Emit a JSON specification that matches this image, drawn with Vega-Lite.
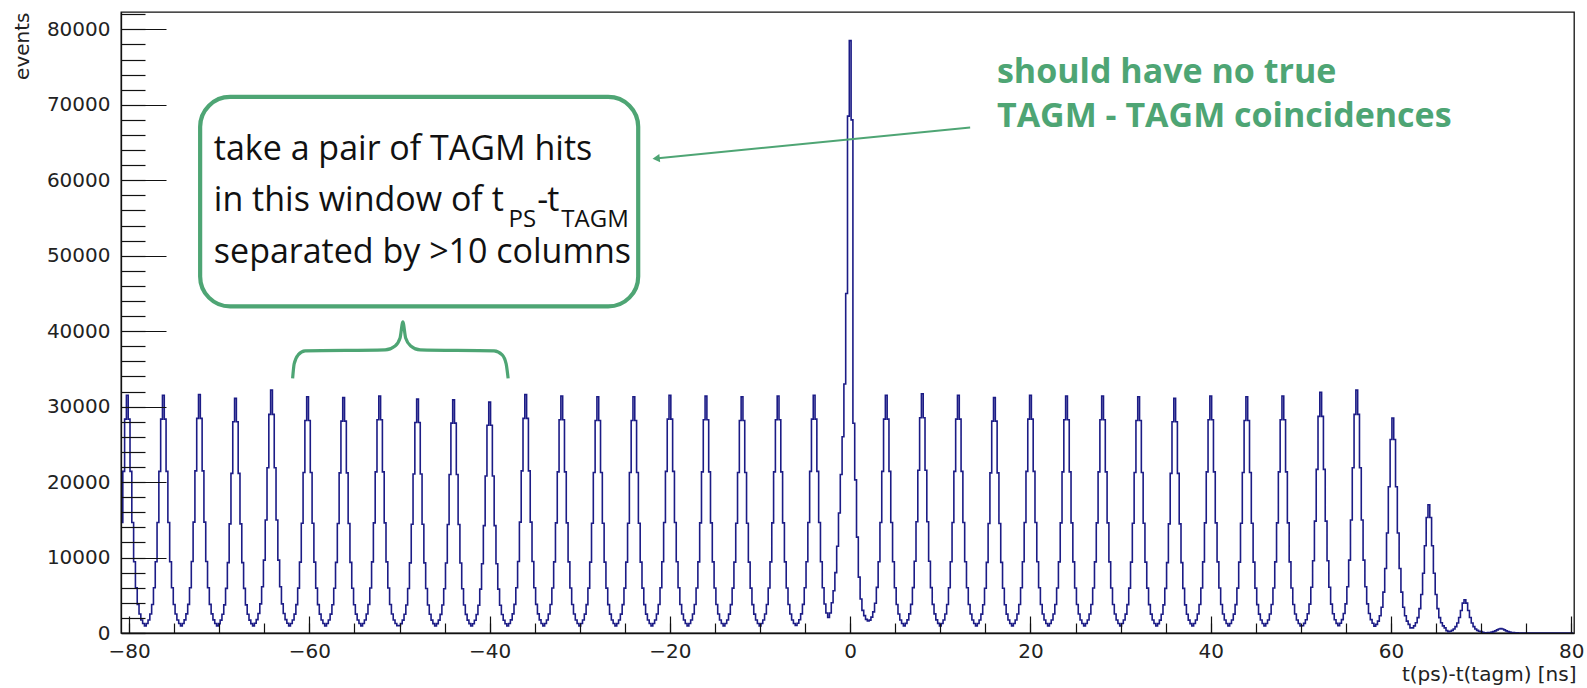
{
"$schema":"https://vega.github.io/schema/vega-lite/v6.json",
"width":1453,"height":621,
"autosize":{"type":"none"},
"padding":{"left":121,"top":12,"right":13,"bottom":55},
"background":"white",
"config":{"view":{"stroke":"#111","strokeWidth":1.3},
"axis":{"grid":false,"domainColor":"#111","domainWidth":1.3,"tickColor":"#111","tickWidth":1.2,"labelFont":"DejaVu Sans","labelFontSize":20,"labelColor":"#222","titleFont":"DejaVu Sans","titleFontSize":20,"titleFontWeight":"normal","titleColor":"#222"}},
"resolve":{"axis":{"x":"independent","y":"independent"}},
"datasets":{
"hist":[
{"t":-80.8,"n":14650},{"t":-80.6,"n":21420},{"t":-80.4,"n":28350},{"t":-80.2,"n":31500},{"t":-80.0,"n":28350},{"t":-79.8,"n":21420},{"t":-79.6,"n":14650},{"t":-79.4,"n":9450},{"t":-79.2,"n":5990},{"t":-79.0,"n":3780},{"t":-78.8,"n":2520},{"t":-78.6,"n":1730},{"t":-78.4,"n":1260},{"t":-78.2,"n":940},
{"t":-78.0,"n":1260},{"t":-77.8,"n":1730},{"t":-77.6,"n":2520},{"t":-77.4,"n":3780},{"t":-77.2,"n":5990},{"t":-77.0,"n":9450},{"t":-76.8,"n":14650},{"t":-76.6,"n":21420},{"t":-76.4,"n":28350},{"t":-76.2,"n":31500},{"t":-76.0,"n":28350},{"t":-75.8,"n":21420},{"t":-75.6,"n":14650},{"t":-75.4,"n":9450},{"t":-75.2,"n":5990},{"t":-75.0,"n":3780},{"t":-74.8,"n":2520},{"t":-74.6,"n":1730},{"t":-74.4,"n":1260},{"t":-74.2,"n":945},
{"t":-74.0,"n":1260},{"t":-73.8,"n":1740},{"t":-73.6,"n":2530},{"t":-73.4,"n":3790},{"t":-73.2,"n":6000},{"t":-73.0,"n":9480},{"t":-72.8,"n":14690},{"t":-72.6,"n":21490},{"t":-72.4,"n":28440},{"t":-72.2,"n":31600},{"t":-72.0,"n":28440},{"t":-71.8,"n":21490},{"t":-71.6,"n":14690},{"t":-71.4,"n":9480},{"t":-71.2,"n":6000},{"t":-71.0,"n":3790},{"t":-70.8,"n":2530},{"t":-70.6,"n":1740},{"t":-70.4,"n":1260},{"t":-70.2,"n":940},
{"t":-70.0,"n":1240},{"t":-69.8,"n":1710},{"t":-69.6,"n":2490},{"t":-69.4,"n":3730},{"t":-69.2,"n":5910},{"t":-69.0,"n":9330},{"t":-68.8,"n":14460},{"t":-68.6,"n":21150},{"t":-68.4,"n":27990},{"t":-68.2,"n":31100},{"t":-68.0,"n":27990},{"t":-67.8,"n":21150},{"t":-67.6,"n":14460},{"t":-67.4,"n":9330},{"t":-67.2,"n":5910},{"t":-67.0,"n":3730},{"t":-66.8,"n":2490},{"t":-66.6,"n":1710},{"t":-66.4,"n":1240},{"t":-66.2,"n":950},
{"t":-66.0,"n":1290},{"t":-65.8,"n":1770},{"t":-65.6,"n":2580},{"t":-65.4,"n":3860},{"t":-65.2,"n":6120},{"t":-65.0,"n":9660},{"t":-64.8,"n":14970},{"t":-64.6,"n":21900},{"t":-64.4,"n":28980},{"t":-64.2,"n":32200},{"t":-64.0,"n":28980},{"t":-63.8,"n":21900},{"t":-63.6,"n":14970},{"t":-63.4,"n":9660},{"t":-63.2,"n":6120},{"t":-63.0,"n":3860},{"t":-62.8,"n":2580},{"t":-62.6,"n":1770},{"t":-62.4,"n":1290},{"t":-62.2,"n":950},
{"t":-62.0,"n":1250},{"t":-61.8,"n":1720},{"t":-61.6,"n":2500},{"t":-61.4,"n":3760},{"t":-61.2,"n":5950},{"t":-61.0,"n":9390},{"t":-60.8,"n":14550},{"t":-60.6,"n":21280},{"t":-60.4,"n":28170},{"t":-60.2,"n":31300},{"t":-60.0,"n":28170},{"t":-59.8,"n":21280},{"t":-59.6,"n":14550},{"t":-59.4,"n":9390},{"t":-59.2,"n":5950},{"t":-59.0,"n":3760},{"t":-58.8,"n":2500},{"t":-58.6,"n":1720},{"t":-58.4,"n":1250},{"t":-58.2,"n":935},
{"t":-58.0,"n":1250},{"t":-57.8,"n":1720},{"t":-57.6,"n":2500},{"t":-57.4,"n":3740},{"t":-57.2,"n":5930},{"t":-57.0,"n":9360},{"t":-56.8,"n":14510},{"t":-56.6,"n":21220},{"t":-56.4,"n":28080},{"t":-56.2,"n":31200},{"t":-56.0,"n":28080},{"t":-55.8,"n":21220},{"t":-55.6,"n":14510},{"t":-55.4,"n":9360},{"t":-55.2,"n":5930},{"t":-55.0,"n":3740},{"t":-54.8,"n":2500},{"t":-54.6,"n":1720},{"t":-54.4,"n":1250},{"t":-54.2,"n":940},
{"t":-54.0,"n":1260},{"t":-53.8,"n":1730},{"t":-53.6,"n":2510},{"t":-53.4,"n":3770},{"t":-53.2,"n":5970},{"t":-53.0,"n":9420},{"t":-52.8,"n":14600},{"t":-52.6,"n":21350},{"t":-52.4,"n":28260},{"t":-52.2,"n":31400},{"t":-52.0,"n":28260},{"t":-51.8,"n":21350},{"t":-51.6,"n":14600},{"t":-51.4,"n":9420},{"t":-51.2,"n":5970},{"t":-51.0,"n":3770},{"t":-50.8,"n":2510},{"t":-50.6,"n":1730},{"t":-50.4,"n":1260},{"t":-50.2,"n":980},{"t":-50.0,"n":960},
{"t":-49.8,"n":1240},{"t":-49.6,"n":1710},{"t":-49.4,"n":2480},{"t":-49.2,"n":3720},{"t":-49.0,"n":5890},{"t":-48.8,"n":9300},{"t":-48.6,"n":14420},{"t":-48.4,"n":21080},{"t":-48.2,"n":27900},{"t":-48.0,"n":31000},{"t":-47.8,"n":27900},{"t":-47.6,"n":21080},{"t":-47.4,"n":14420},{"t":-47.2,"n":9300},{"t":-47.0,"n":5890},{"t":-46.8,"n":3720},{"t":-46.6,"n":2480},{"t":-46.4,"n":1710},{"t":-46.2,"n":1240},{"t":-46.0,"n":930},
{"t":-45.8,"n":1240},{"t":-45.6,"n":1700},{"t":-45.4,"n":2470},{"t":-45.2,"n":3710},{"t":-45.0,"n":5870},{"t":-44.8,"n":9270},{"t":-44.6,"n":14370},{"t":-44.4,"n":21010},{"t":-44.2,"n":27810},{"t":-44.0,"n":30900},{"t":-43.8,"n":27810},{"t":-43.6,"n":21010},{"t":-43.4,"n":14370},{"t":-43.2,"n":9270},{"t":-43.0,"n":5870},{"t":-42.8,"n":3710},{"t":-42.6,"n":2470},{"t":-42.4,"n":1700},{"t":-42.2,"n":1240},{"t":-42.0,"n":925},
{"t":-41.8,"n":1220},{"t":-41.6,"n":1680},{"t":-41.4,"n":2450},{"t":-41.2,"n":3670},{"t":-41.0,"n":5810},{"t":-40.8,"n":9180},{"t":-40.6,"n":14230},{"t":-40.4,"n":20810},{"t":-40.2,"n":27540},{"t":-40.0,"n":30600},{"t":-39.8,"n":27540},{"t":-39.6,"n":20810},{"t":-39.4,"n":14230},{"t":-39.2,"n":9180},{"t":-39.0,"n":5810},{"t":-38.8,"n":3670},{"t":-38.6,"n":2450},{"t":-38.4,"n":1680},{"t":-38.2,"n":1220},{"t":-38.0,"n":930},
{"t":-37.8,"n":1260},{"t":-37.6,"n":1740},{"t":-37.4,"n":2530},{"t":-37.2,"n":3790},{"t":-37.0,"n":6000},{"t":-36.8,"n":9480},{"t":-36.6,"n":14690},{"t":-36.4,"n":21490},{"t":-36.2,"n":28440},{"t":-36.0,"n":31600},{"t":-35.8,"n":28440},{"t":-35.6,"n":21490},{"t":-35.4,"n":14690},{"t":-35.2,"n":9480},{"t":-35.0,"n":6000},{"t":-34.8,"n":3790},{"t":-34.6,"n":2530},{"t":-34.4,"n":1740},{"t":-34.2,"n":1260},{"t":-34.0,"n":945},
{"t":-33.8,"n":1260},{"t":-33.6,"n":1730},{"t":-33.4,"n":2510},{"t":-33.2,"n":3770},{"t":-33.0,"n":5970},{"t":-32.8,"n":9420},{"t":-32.6,"n":14600},{"t":-32.4,"n":21350},{"t":-32.2,"n":28260},{"t":-32.0,"n":31400},{"t":-31.8,"n":28260},{"t":-31.6,"n":21350},{"t":-31.4,"n":14600},{"t":-31.2,"n":9420},{"t":-31.0,"n":5970},{"t":-30.8,"n":3770},{"t":-30.6,"n":2510},{"t":-30.4,"n":1730},{"t":-30.2,"n":1260},{"t":-30.0,"n":940},
{"t":-29.8,"n":1250},{"t":-29.6,"n":1720},{"t":-29.4,"n":2500},{"t":-29.2,"n":3760},{"t":-29.0,"n":5950},{"t":-28.8,"n":9390},{"t":-28.6,"n":14550},{"t":-28.4,"n":21280},{"t":-28.2,"n":28170},{"t":-28.0,"n":31300},{"t":-27.8,"n":28170},{"t":-27.6,"n":21280},{"t":-27.4,"n":14550},{"t":-27.2,"n":9390},{"t":-27.0,"n":5950},{"t":-26.8,"n":3760},{"t":-26.6,"n":2500},{"t":-26.4,"n":1720},{"t":-26.2,"n":1250},{"t":-26.0,"n":940},
{"t":-25.8,"n":1250},{"t":-25.6,"n":1720},{"t":-25.4,"n":2500},{"t":-25.2,"n":3760},{"t":-25.0,"n":5950},{"t":-24.8,"n":9390},{"t":-24.6,"n":14550},{"t":-24.4,"n":21280},{"t":-24.2,"n":28170},{"t":-24.0,"n":31300},{"t":-23.8,"n":28170},{"t":-23.6,"n":21280},{"t":-23.4,"n":14550},{"t":-23.2,"n":9390},{"t":-23.0,"n":5950},{"t":-22.8,"n":3760},{"t":-22.6,"n":2500},{"t":-22.4,"n":1720},{"t":-22.2,"n":1250},{"t":-22.0,"n":945},
{"t":-21.8,"n":1260},{"t":-21.6,"n":1730},{"t":-21.4,"n":2520},{"t":-21.2,"n":3780},{"t":-21.0,"n":5990},{"t":-20.8,"n":9450},{"t":-20.6,"n":14650},{"t":-20.4,"n":21420},{"t":-20.2,"n":28350},{"t":-20.0,"n":31500},{"t":-19.8,"n":28350},{"t":-19.6,"n":21420},{"t":-19.4,"n":14650},{"t":-19.2,"n":9450},{"t":-19.0,"n":5990},{"t":-18.8,"n":3780},{"t":-18.6,"n":2520},{"t":-18.4,"n":1730},{"t":-18.2,"n":1260},{"t":-18.0,"n":945},
{"t":-17.8,"n":1260},{"t":-17.6,"n":1730},{"t":-17.4,"n":2510},{"t":-17.2,"n":3770},{"t":-17.0,"n":5970},{"t":-16.8,"n":9420},{"t":-16.6,"n":14600},{"t":-16.4,"n":21350},{"t":-16.2,"n":28260},{"t":-16.0,"n":31400},{"t":-15.8,"n":28260},{"t":-15.6,"n":21350},{"t":-15.4,"n":14600},{"t":-15.2,"n":9420},{"t":-15.0,"n":5970},{"t":-14.8,"n":3770},{"t":-14.6,"n":2510},{"t":-14.4,"n":1730},{"t":-14.2,"n":1260},{"t":-14.0,"n":940},
{"t":-13.8,"n":1250},{"t":-13.6,"n":1720},{"t":-13.4,"n":2500},{"t":-13.2,"n":3760},{"t":-13.0,"n":5950},{"t":-12.8,"n":9390},{"t":-12.6,"n":14550},{"t":-12.4,"n":21280},{"t":-12.2,"n":28170},{"t":-12.0,"n":31300},{"t":-11.8,"n":28170},{"t":-11.6,"n":21280},{"t":-11.4,"n":14550},{"t":-11.2,"n":9390},{"t":-11.0,"n":5950},{"t":-10.8,"n":3760},{"t":-10.6,"n":2500},{"t":-10.4,"n":1720},{"t":-10.2,"n":1250},{"t":-10.0,"n":950},
{"t":-9.8,"n":1260},{"t":-9.6,"n":1730},{"t":-9.4,"n":2510},{"t":-9.2,"n":3770},{"t":-9.0,"n":5970},{"t":-8.8,"n":9420},{"t":-8.6,"n":14600},{"t":-8.4,"n":21350},{"t":-8.2,"n":28260},{"t":-8.0,"n":31400},{"t":-7.8,"n":28260},{"t":-7.6,"n":21350},{"t":-7.4,"n":14600},{"t":-7.2,"n":9420},{"t":-7.0,"n":5970},{"t":-6.8,"n":3770},{"t":-6.6,"n":2510},{"t":-6.4,"n":1730},{"t":-6.2,"n":1260},{"t":-6.0,"n":1000},
{"t":-5.8,"n":1300},{"t":-5.6,"n":1760},{"t":-5.4,"n":2540},{"t":-5.2,"n":3790},{"t":-5.0,"n":5990},{"t":-4.8,"n":9450},{"t":-4.6,"n":14650},{"t":-4.4,"n":21420},{"t":-4.2,"n":28350},{"t":-4.0,"n":31500},{"t":-3.8,"n":28350},{"t":-3.6,"n":21420},{"t":-3.4,"n":14650},{"t":-3.2,"n":9450},{"t":-3.0,"n":6000},{"t":-2.8,"n":3850},{"t":-2.6,"n":2650},{"t":-2.4,"n":2050},{"t":-2.2,"n":2650},{"t":-2.0,"n":4000},
{"t":-1.8,"n":5600},{"t":-1.6,"n":8000},{"t":-1.4,"n":11500},{"t":-1.2,"n":15900},{"t":-1.0,"n":21000},{"t":-0.8,"n":26000},{"t":-0.6,"n":33000},{"t":-0.4,"n":45000},{"t":-0.2,"n":68500},{"t":0,"n":78500},{"t":0.2,"n":68000},{"t":0.4,"n":27800},{"t":0.6,"n":20300},{"t":0.8,"n":12700},{"t":1.0,"n":7400},{"t":1.2,"n":4500},{"t":1.4,"n":3000},{"t":1.6,"n":2300},{"t":1.8,"n":1800},{"t":2.0,"n":1600},
{"t":2.2,"n":1700},{"t":2.4,"n":2100},{"t":2.6,"n":2800},{"t":2.8,"n":3950},{"t":3.0,"n":6050},{"t":3.2,"n":9450},{"t":3.4,"n":14650},{"t":3.6,"n":21420},{"t":3.8,"n":28350},{"t":4.0,"n":31500},{"t":4.2,"n":28350},{"t":4.4,"n":21420},{"t":4.6,"n":14650},{"t":4.8,"n":9450},{"t":5.0,"n":5990},{"t":5.2,"n":3780},{"t":5.4,"n":2520},{"t":5.6,"n":1730},{"t":5.8,"n":1260},{"t":6.0,"n":940},
{"t":6.2,"n":1270},{"t":6.4,"n":1740},{"t":6.6,"n":2540},{"t":6.8,"n":3800},{"t":7.0,"n":6020},{"t":7.2,"n":9510},{"t":7.4,"n":14740},{"t":7.6,"n":21560},{"t":7.8,"n":28530},{"t":8.0,"n":31700},{"t":8.2,"n":28530},{"t":8.4,"n":21560},{"t":8.6,"n":14740},{"t":8.8,"n":9510},{"t":9.0,"n":6020},{"t":9.2,"n":3800},{"t":9.4,"n":2540},{"t":9.6,"n":1740},{"t":9.8,"n":1270},{"t":10.0,"n":950},
{"t":10.2,"n":1260},{"t":10.4,"n":1730},{"t":10.6,"n":2520},{"t":10.8,"n":3780},{"t":11.0,"n":5990},{"t":11.2,"n":9450},{"t":11.4,"n":14650},{"t":11.6,"n":21420},{"t":11.8,"n":28350},{"t":12.0,"n":31500},{"t":12.2,"n":28350},{"t":12.4,"n":21420},{"t":12.6,"n":14650},{"t":12.8,"n":9450},{"t":13.0,"n":5990},{"t":13.2,"n":3780},{"t":13.4,"n":2520},{"t":13.6,"n":1730},{"t":13.8,"n":1260},{"t":14.0,"n":940},
{"t":14.2,"n":1250},{"t":14.4,"n":1720},{"t":14.6,"n":2500},{"t":14.8,"n":3740},{"t":15.0,"n":5930},{"t":15.2,"n":9360},{"t":15.4,"n":14510},{"t":15.6,"n":21220},{"t":15.8,"n":28080},{"t":16.0,"n":31200},{"t":16.2,"n":28080},{"t":16.4,"n":21220},{"t":16.6,"n":14510},{"t":16.8,"n":9360},{"t":17.0,"n":5930},{"t":17.2,"n":3740},{"t":17.4,"n":2500},{"t":17.6,"n":1720},{"t":17.8,"n":1250},{"t":18.0,"n":940},
{"t":18.2,"n":1260},{"t":18.4,"n":1730},{"t":18.6,"n":2520},{"t":18.8,"n":3780},{"t":19.0,"n":5990},{"t":19.2,"n":9450},{"t":19.4,"n":14650},{"t":19.6,"n":21420},{"t":19.8,"n":28350},{"t":20.0,"n":31500},{"t":20.2,"n":28350},{"t":20.4,"n":21420},{"t":20.6,"n":14650},{"t":20.8,"n":9450},{"t":21.0,"n":5990},{"t":21.2,"n":3780},{"t":21.4,"n":2520},{"t":21.6,"n":1730},{"t":21.8,"n":1260},{"t":22.0,"n":945},
{"t":22.2,"n":1260},{"t":22.4,"n":1730},{"t":22.6,"n":2510},{"t":22.8,"n":3770},{"t":23.0,"n":5970},{"t":23.2,"n":9420},{"t":23.4,"n":14600},{"t":23.6,"n":21350},{"t":23.8,"n":28260},{"t":24.0,"n":31400},{"t":24.2,"n":28260},{"t":24.4,"n":21350},{"t":24.6,"n":14600},{"t":24.8,"n":9420},{"t":25.0,"n":5970},{"t":25.2,"n":3770},{"t":25.4,"n":2510},{"t":25.6,"n":1730},{"t":25.8,"n":1260},{"t":26.0,"n":940},
{"t":26.2,"n":1260},{"t":26.4,"n":1730},{"t":26.6,"n":2510},{"t":26.8,"n":3770},{"t":27.0,"n":5970},{"t":27.2,"n":9420},{"t":27.4,"n":14600},{"t":27.6,"n":21350},{"t":27.8,"n":28260},{"t":28.0,"n":31400},{"t":28.2,"n":28260},{"t":28.4,"n":21350},{"t":28.6,"n":14600},{"t":28.8,"n":9420},{"t":29.0,"n":5970},{"t":29.2,"n":3770},{"t":29.4,"n":2510},{"t":29.6,"n":1730},{"t":29.8,"n":1260},{"t":30.0,"n":940},
{"t":30.2,"n":1250},{"t":30.4,"n":1720},{"t":30.6,"n":2500},{"t":30.8,"n":3760},{"t":31.0,"n":5950},{"t":31.2,"n":9390},{"t":31.4,"n":14550},{"t":31.6,"n":21280},{"t":31.8,"n":28170},{"t":32.0,"n":31300},{"t":32.2,"n":28170},{"t":32.4,"n":21280},{"t":32.6,"n":14550},{"t":32.8,"n":9390},{"t":33.0,"n":5950},{"t":33.2,"n":3760},{"t":33.4,"n":2500},{"t":33.6,"n":1720},{"t":33.8,"n":1250},{"t":34.0,"n":935},
{"t":34.2,"n":1240},{"t":34.4,"n":1710},{"t":34.6,"n":2490},{"t":34.8,"n":3730},{"t":35.0,"n":5910},{"t":35.2,"n":9330},{"t":35.4,"n":14460},{"t":35.6,"n":21150},{"t":35.8,"n":27990},{"t":36.0,"n":31100},{"t":36.2,"n":27990},{"t":36.4,"n":21150},{"t":36.6,"n":14460},{"t":36.8,"n":9330},{"t":37.0,"n":5910},{"t":37.2,"n":3730},{"t":37.4,"n":2490},{"t":37.6,"n":1710},{"t":37.8,"n":1240},{"t":38.0,"n":935},
{"t":38.2,"n":1260},{"t":38.4,"n":1730},{"t":38.6,"n":2510},{"t":38.8,"n":3770},{"t":39.0,"n":5970},{"t":39.2,"n":9420},{"t":39.4,"n":14600},{"t":39.6,"n":21350},{"t":39.8,"n":28260},{"t":40.0,"n":31400},{"t":40.2,"n":28260},{"t":40.4,"n":21350},{"t":40.6,"n":14600},{"t":40.8,"n":9420},{"t":41.0,"n":5970},{"t":41.2,"n":3770},{"t":41.4,"n":2510},{"t":41.6,"n":1730},{"t":41.8,"n":1260},{"t":42.0,"n":940},
{"t":42.2,"n":1250},{"t":42.4,"n":1720},{"t":42.6,"n":2500},{"t":42.8,"n":3760},{"t":43.0,"n":5950},{"t":43.2,"n":9390},{"t":43.4,"n":14550},{"t":43.6,"n":21280},{"t":43.8,"n":28170},{"t":44.0,"n":31300},{"t":44.2,"n":28170},{"t":44.4,"n":21280},{"t":44.6,"n":14550},{"t":44.8,"n":9390},{"t":45.0,"n":5950},{"t":45.2,"n":3760},{"t":45.4,"n":2500},{"t":45.6,"n":1720},{"t":45.8,"n":1250},{"t":46.0,"n":940},
{"t":46.2,"n":1260},{"t":46.4,"n":1730},{"t":46.6,"n":2510},{"t":46.8,"n":3770},{"t":47.0,"n":5970},{"t":47.2,"n":9420},{"t":47.4,"n":14600},{"t":47.6,"n":21350},{"t":47.8,"n":28260},{"t":48.0,"n":31400},{"t":48.2,"n":28260},{"t":48.4,"n":21350},{"t":48.6,"n":14600},{"t":48.8,"n":9420},{"t":49.0,"n":5970},{"t":49.2,"n":3770},{"t":49.4,"n":2510},{"t":49.6,"n":1730},{"t":49.8,"n":1260},{"t":50.0,"n":950},{"t":50.2,"n":960},
{"t":50.4,"n":1280},{"t":50.6,"n":1750},{"t":50.8,"n":2550},{"t":51.0,"n":3830},{"t":51.2,"n":6060},{"t":51.4,"n":9570},{"t":51.6,"n":14830},{"t":51.8,"n":21690},{"t":52.0,"n":28710},{"t":52.2,"n":31900},{"t":52.4,"n":28710},{"t":52.6,"n":21690},{"t":52.8,"n":14830},{"t":53.0,"n":9570},{"t":53.2,"n":6060},{"t":53.4,"n":3830},{"t":53.6,"n":2550},{"t":53.8,"n":1750},{"t":54.0,"n":1280},{"t":54.2,"n":960},
{"t":54.4,"n":1290},{"t":54.6,"n":1770},{"t":54.8,"n":2580},{"t":55.0,"n":3860},{"t":55.2,"n":6120},{"t":55.4,"n":9660},{"t":55.6,"n":14970},{"t":55.8,"n":21900},{"t":56.0,"n":28980},{"t":56.2,"n":32200},{"t":56.4,"n":28980},{"t":56.6,"n":21900},{"t":56.8,"n":14970},{"t":57.0,"n":9660},{"t":57.2,"n":6120},{"t":57.4,"n":3860},{"t":57.6,"n":2580},{"t":57.8,"n":1770},{"t":58.0,"n":1290},{"t":58.2,"n":910},
{"t":58.4,"n":1140},{"t":58.6,"n":1570},{"t":58.8,"n":2280},{"t":59.0,"n":3420},{"t":59.2,"n":5420},{"t":59.4,"n":8550},{"t":59.6,"n":13250},{"t":59.8,"n":19380},{"t":60.0,"n":25650},{"t":60.2,"n":28500},{"t":60.4,"n":25650},{"t":60.6,"n":19380},{"t":60.8,"n":13250},{"t":61.0,"n":8550},{"t":61.2,"n":5420},{"t":61.4,"n":3420},{"t":61.6,"n":2280},{"t":61.8,"n":1570},{"t":62.0,"n":1140},{"t":62.2,"n":680},
{"t":62.4,"n":680},{"t":62.6,"n":940},{"t":62.8,"n":1360},{"t":63.0,"n":2040},{"t":63.2,"n":3230},{"t":63.4,"n":5100},{"t":63.6,"n":7910},{"t":63.8,"n":11560},{"t":64.0,"n":15300},{"t":64.2,"n":17000},{"t":64.4,"n":15300},{"t":64.6,"n":11560},{"t":64.8,"n":7910},{"t":65.0,"n":5100},{"t":65.2,"n":3230},{"t":65.4,"n":2040},{"t":65.6,"n":1360},{"t":65.8,"n":940},{"t":66.0,"n":680},{"t":66.2,"n":320},
{"t":66.4,"n":180},{"t":66.6,"n":240},{"t":66.8,"n":350},{"t":67.0,"n":530},{"t":67.2,"n":840},{"t":67.4,"n":1320},{"t":67.6,"n":2050},{"t":67.8,"n":2990},{"t":68.0,"n":3960},{"t":68.2,"n":4400},{"t":68.4,"n":3960},{"t":68.6,"n":2990},{"t":68.8,"n":2050},{"t":69.0,"n":1320},{"t":69.2,"n":840},{"t":69.4,"n":530},{"t":69.6,"n":350},{"t":69.8,"n":240},{"t":70.0,"n":180},{"t":70.2,"n":90},
{"t":70.4,"n":40},{"t":70.6,"n":33},{"t":70.8,"n":48},{"t":71.0,"n":72},{"t":71.2,"n":114},{"t":71.4,"n":180},{"t":71.6,"n":280},{"t":71.8,"n":410},{"t":72.0,"n":540},{"t":72.2,"n":600},{"t":72.4,"n":540},{"t":72.6,"n":410},{"t":72.8,"n":280},{"t":73.0,"n":180},{"t":73.2,"n":114},{"t":73.4,"n":72},{"t":73.6,"n":48},{"t":73.8,"n":33},{"t":74.0,"n":24},{"t":74.2,"n":10},
{"t":74.4,"n":0},{"t":74.6,"n":0},{"t":74.8,"n":0},{"t":75.0,"n":0},{"t":75.2,"n":0},{"t":75.4,"n":0},{"t":75.6,"n":0},{"t":75.8,"n":0},{"t":76.0,"n":0},{"t":76.2,"n":0},{"t":76.4,"n":0},{"t":76.6,"n":0},{"t":76.8,"n":0},{"t":77.0,"n":0},{"t":77.2,"n":0},{"t":77.4,"n":0},{"t":77.6,"n":0},{"t":77.8,"n":0},{"t":78.0,"n":0},{"t":78.2,"n":0},{"t":78.4,"n":0},{"t":78.6,"n":0},{"t":78.8,"n":0},{"t":79.0,"n":0},{"t":79.2,"n":0},{"t":79.4,"n":0},{"t":79.6,"n":0},{"t":79.8,"n":0},{"t":80.0,"n":0},{"t":80.2,"n":0}
],
"box":[{"x1":-72.12,"x2":-23.52,"y1":71052,"y2":43281}],
"boxText":[
{"x":-70.6,"y":62700,"s":"take a pair of TAGM hits"},
{"x":-70.6,"y":55980,"s":"in this window of t"},
{"x":-34.73,"y":55980,"s":"-"},
{"x":-33.62,"y":55980,"s":"t"},
{"x":-70.6,"y":49087,"s":"separated by >10 columns"}],
"boxSub":[
{"x":-37.9,"y":53860,"s":"PS"},
{"x":-32.05,"y":53860,"s":"TAGM"}],
"note":[
{"x":16.28,"y":72869,"s":"should have no true"},
{"x":16.28,"y":67036,"s":"TAGM - TAGM coincidences"}],
"arrow":[{"x1":-21.6,"y1":62880,"x2":13.31,"y2":66983}],
"head":[{"x":-21.53,"y":62887}],
"brace":[
{"bx":-61.86,"by":33737},{"bx":-61.69,"by":35659},{"bx":-61.25,"by":36852},{"bx":-60.47,"by":37382},{"bx":-51.6,"by":37515},{"bx":-50.49,"by":38045},{"bx":-49.94,"by":39106},{"bx":-49.63,"by":41226},{"bx":-49.32,"by":39106},{"bx":-48.76,"by":38045},{"bx":-47.71,"by":37515},{"bx":-39.51,"by":37382},{"bx":-38.61,"by":36852},{"bx":-38.17,"by":35659},{"bx":-37.95,"by":33737}]
},
"layer":[
{"data":{"name":"box"},
 "mark":{"type":"rect","fill":"white","stroke":"#4ea574","strokeWidth":4.2,"cornerRadius":30},
 "encoding":{
  "x":{"field":"x1","type":"quantitative","scale":{"domain":[-80.9,80.3],"nice":false,"zero":false},"axis":null},
  "x2":{"field":"x2"},
  "y":{"field":"y1","type":"quantitative","scale":{"domain":[0,82300],"nice":false},"axis":null},
  "y2":{"field":"y2"}}},
{"data":{"name":"hist"},
 "mark":{"type":"line","interpolate":"step","color":"#1c1c86","strokeWidth":1.6,"clip":true},
 "encoding":{
  "x":{"field":"t","type":"quantitative","scale":{"domain":[-80.9,80.3],"nice":false,"zero":false},
   "axis":{"orient":"bottom","values":[-80,-60,-40,-20,0,20,40,60,80],"format":"d","tickSize":-17,"labelPadding":25,"labelFlush":false,"labelOverlap":false,"zindex":1,
    "title":"t(ps)-t(tagm) [ns]","titleAnchor":"end","titleAlign":"right","titleBaseline":"alphabetic","titleX":1455,"titleY":47}},
  "y":{"field":"n","type":"quantitative","scale":{"domain":[0,82300],"nice":false},
   "axis":{"orient":"left","values":[0,10000,20000,30000,40000,50000,60000,70000,80000],"format":"d","tickSize":-45,"labelPadding":56,"labelOverlap":false,"zindex":1,
    "title":"events","titleAngle":-90,"titleAlign":"right","titleBaseline":"alphabetic","titleX":-93,"titleY":0}}}},
{"data":{"name":"brace"},
 "mark":{"type":"line","interpolate":"monotone","color":"#4ea574","strokeWidth":3.2},
 "encoding":{
  "x":{"field":"bx","type":"quantitative","scale":{"domain":[-80.9,80.3],"nice":false,"zero":false},
   "axis":{"orient":"bottom","values":[-80,-75,-70,-65,-60,-55,-50,-45,-40,-35,-30,-25,-20,-15,-10,-5,0,5,10,15,20,25,30,35,40,45,50,55,60,65,70,75,80],"tickSize":-10,"labels":false,"domain":false,"title":null,"zindex":1}},
  "y":{"field":"by","type":"quantitative","scale":{"domain":[0,82300],"nice":false},
   "axis":{"orient":"left","values":[0,2000,4000,6000,8000,10000,12000,14000,16000,18000,20000,22000,24000,26000,28000,30000,32000,34000,36000,38000,40000,42000,44000,46000,48000,50000,52000,54000,56000,58000,60000,62000,64000,66000,68000,70000,72000,74000,76000,78000,80000,82000],"tickSize":-24,"labels":false,"domain":false,"title":null,"zindex":1}}}},
{"data":{"name":"arrow"},
 "mark":{"type":"rule","color":"#4ea574","strokeWidth":2},
 "encoding":{
  "x":{"field":"x1","type":"quantitative","scale":{"domain":[-80.9,80.3],"nice":false,"zero":false},"axis":null},
  "x2":{"field":"x2"},
  "y":{"field":"y1","type":"quantitative","scale":{"domain":[0,82300],"nice":false},"axis":null},
  "y2":{"field":"y2"}}},
{"data":{"name":"head"},
 "mark":{"type":"point","shape":"triangle-left","filled":true,"size":70,"angle":-6,"color":"#4ea574","opacity":1},
 "encoding":{
  "x":{"field":"x","type":"quantitative","scale":{"domain":[-80.9,80.3],"nice":false,"zero":false},"axis":null},
  "y":{"field":"y","type":"quantitative","scale":{"domain":[0,82300],"nice":false},"axis":null}}},
{"data":{"name":"boxText"},
 "mark":{"type":"text","align":"left","baseline":"alphabetic","font":"Open Sans","fontSize":34,"color":"#111"},
 "encoding":{
  "x":{"field":"x","type":"quantitative","scale":{"domain":[-80.9,80.3],"nice":false,"zero":false},"axis":null},
  "y":{"field":"y","type":"quantitative","scale":{"domain":[0,82300],"nice":false},"axis":null},
  "text":{"field":"s"}}},
{"data":{"name":"boxSub"},
 "mark":{"type":"text","align":"left","baseline":"alphabetic","font":"Open Sans","fontSize":24,"color":"#111"},
 "encoding":{
  "x":{"field":"x","type":"quantitative","scale":{"domain":[-80.9,80.3],"nice":false,"zero":false},"axis":null},
  "y":{"field":"y","type":"quantitative","scale":{"domain":[0,82300],"nice":false},"axis":null},
  "text":{"field":"s"}}},
{"data":{"name":"note"},
 "mark":{"type":"text","align":"left","baseline":"alphabetic","font":"Open Sans","fontSize":34,"fontWeight":"bold","color":"#4ea574"},
 "encoding":{
  "x":{"field":"x","type":"quantitative","scale":{"domain":[-80.9,80.3],"nice":false,"zero":false},"axis":null},
  "y":{"field":"y","type":"quantitative","scale":{"domain":[0,82300],"nice":false},"axis":null},
  "text":{"field":"s"}}}
]
}
